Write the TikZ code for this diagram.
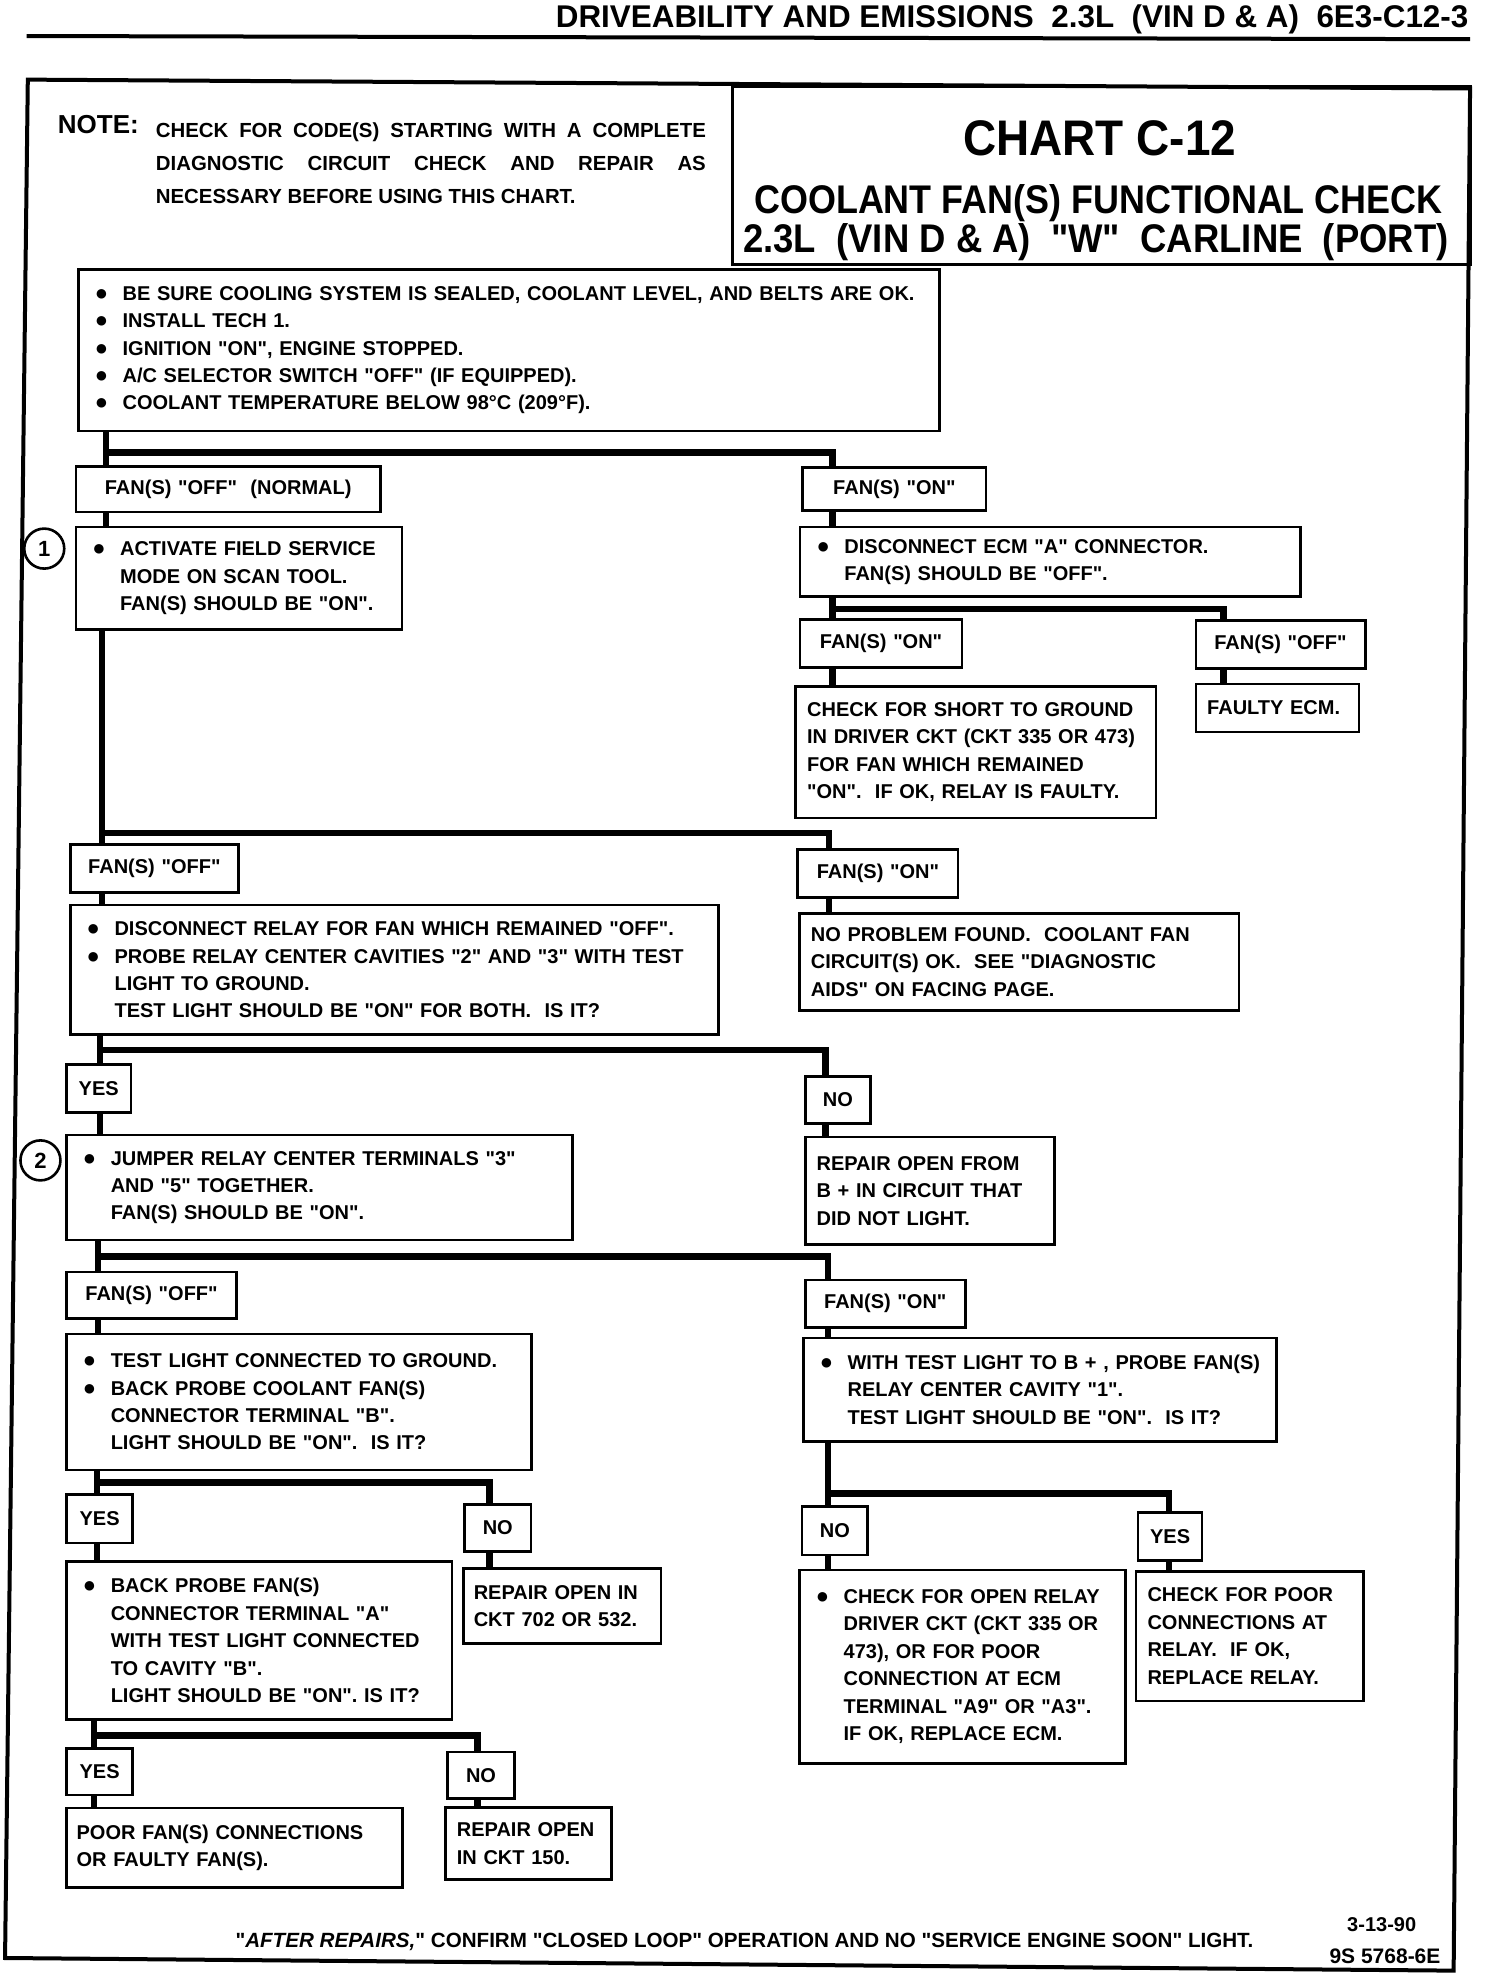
\documentclass[tikz,border=0pt]{standalone}
\usepackage{graphicx}
\usepackage{fontspec}
\setmainfont{Liberation Sans}[Ligatures=TeXOff]
\usetikzlibrary{calc}

\newlength\BulW \setlength\BulW{13.9pt}
\newcommand\BulL[1]{\mbox{\makebox[\BulW][l]{\raisebox{0pt}{\fontsize{11pt}{0pt}\selectfont ●}}#1}}
\newcommand\IndL[1]{\mbox{\hspace*{\BulW}#1}}
\newcommand\PlainL[1]{\mbox{#1}}

% name, x, y, w, h, pad, content   (left aligned text box)
\newcommand\TBox[7]{%
  \pgfmathsetlengthmacro\tbw{(#4-2*#6)*0.632}%
  \node[tb, inner xsep=#6*0.632pt, text width=\tbw, minimum height=#5*0.632pt] (#1) at (#2,#3) {#7};}
% name, x, y, w, h, content  (centered label box)
\newcommand\LBox[6]{%
  \pgfmathsetlengthmacro\tbw{#4*0.632}%
  \node[tb, align=center, inner xsep=0pt, text width=\tbw, minimum height=#5*0.632pt] (#1) at (#2,#3) {#6};}

\tikzset{
  tb/.style={draw, line width=1.3pt, anchor=north west, inner ysep=0pt, align=left,
             font=\fontsize{10pt}{13.7pt}\selectfont\bfseries},
  conn/.style={line width=3.2pt},
  txt/.style={inner sep=0pt},
  numc/.style={circle, draw, line width=1.3pt, minimum size=20pt, inner sep=0pt,
               font=\fontsize{11pt}{12pt}\selectfont\bfseries}
}

\begin{document}
\begin{tikzpicture}[x=0.632pt, y=-0.632pt]
\useasboundingbox (0,0) rectangle (1190,1568);
\fill[white] (0,0) rectangle (1190,1568);

% header
\node[txt, anchor=base east, font=\fontsize{15.7pt}{18pt}\selectfont\bfseries] (hdr) at (1162,22)
  {DRIVEABILITY AND EMISSIONS\ \ 2.3L\ \ (VIN D \& A)\ \ 6E3-C12-3};
\draw[line width=2pt] (21,28.5) -- (1163,31);

% outer frame
\draw[line width=2pt, line join=miter] (22,63) -- (1163,70) -- (1150,1559) -- (4,1549) -- cycle;

% note
\node[txt, anchor=base west, font=\fontsize{13pt}{15pt}\selectfont\bfseries] (note) at (45.5,106) {NOTE:};
\node[txt, anchor=base west, font=\fontsize{10.2pt}{12pt}\selectfont\bfseries] (n1) at (123,109)
  {\makebox[275pt][s]{CHECK FOR CODE(S) STARTING WITH A COMPLETE}};
\node[txt, anchor=base west, font=\fontsize{10.2pt}{12pt}\selectfont\bfseries] (n2) at (123,135)
  {\makebox[275pt][s]{DIAGNOSTIC CIRCUIT CHECK AND REPAIR AS}};
\node[txt, anchor=base west, font=\fontsize{10.2pt}{12pt}\selectfont\bfseries] (n3) at (123,161)
  {NECESSARY BEFORE USING THIS CHART.};

% title box
\node[draw, line width=1.6pt, anchor=north west, minimum width=584*0.632pt, minimum height=141*0.632pt, inner sep=0pt] (titlebox) at (578,67) {};
\node[txt, anchor=base, font=\fontsize{25pt}{28pt}\selectfont\bfseries] (t1) at (870,123) {\scalebox{0.918}[1]{CHART C-12}};
\node[txt, anchor=base, font=\fontsize{20pt}{24pt}\selectfont\bfseries] (t2) at (869,169) {\scalebox{0.898}[1]{COOLANT FAN(S) FUNCTIONAL CHECK}};
\node[txt, anchor=base, font=\fontsize{20pt}{24pt}\selectfont\bfseries] (t3) at (867,200) {\scalebox{0.912}[1]{2.3L\ \ (VIN D \& A)\ \ "W"\ \ CARLINE\ \ (PORT)}};

% boxes
\TBox{b0}{61}{212}{681}{128}{13}{\BulL{BE SURE COOLING SYSTEM IS SEALED, COOLANT LEVEL, AND BELTS ARE OK.}\\
  \BulL{INSTALL TECH 1.}\\ \BulL{IGNITION "ON", ENGINE STOPPED.}\\
  \BulL{A/C SELECTOR SWITCH "OFF" (IF EQUIPPED).}\\ \BulL{COOLANT TEMPERATURE BELOW 98°C (209°F).}}
\LBox{fanoffA}{59}{368}{241}{36}{FAN(S) "OFF"\ \ (NORMAL)}
\LBox{fanonA}{634}{369}{145}{34}{FAN(S) "ON"}
\TBox{box1}{59}{416}{258}{81}{13}{\BulL{ACTIVATE FIELD SERVICE}\\ \IndL{MODE ON SCAN TOOL.}\\ \IndL{FAN(S) SHOULD BE "ON".}}
\node[numc] (c1) at (35,434) {1};
\TBox{discecm}{632}{416}{396}{55}{13}{\BulL{DISCONNECT ECM "A" CONNECTOR.}\\ \IndL{FAN(S) SHOULD BE "OFF".}}
\LBox{fanonB}{632}{489}{128}{38}{FAN(S) "ON"}
\LBox{fanoffB}{945}{490}{134}{38}{FAN(S) "OFF"}
\TBox{short}{628.5}{542}{285}{104}{9}{\PlainL{CHECK FOR SHORT TO GROUND}\\ \PlainL{IN DRIVER CKT (CKT 335 OR 473)}\\
  \PlainL{FOR FAN WHICH REMAINED}\\ \PlainL{"ON".\ \ IF OK, RELAY IS FAULTY.}}
\TBox{faulty}{945}{540}{129}{38}{9}{\PlainL{FAULTY ECM.}}
\LBox{fanoffC}{54.6}{667}{133}{38}{FAN(S) "OFF"}
\LBox{fanonC}{630}{671}{127}{38}{FAN(S) "ON"}
\TBox{discrelay}{54.6}{715}{513}{102.5}{13}{\BulL{DISCONNECT RELAY FOR FAN WHICH REMAINED "OFF".}\\
  \BulL{PROBE RELAY CENTER CAVITIES "2" AND "3" WITH TEST}\\ \IndL{LIGHT TO GROUND.}\\
  \IndL{TEST LIGHT SHOULD BE "ON" FOR BOTH.\ \ IS IT?}}
\TBox{noprob}{631.5}{721.5}{347.5}{77}{9}{\PlainL{NO PROBLEM FOUND.\ \ COOLANT FAN}\\
  \PlainL{CIRCUIT(S) OK.\ \ SEE "DIAGNOSTIC}\\ \PlainL{AIDS" ON FACING PAGE.}}
\LBox{yesD}{51.6}{841}{51}{38}{YES}
\LBox{noD}{636}{850.5}{51.6}{37.5}{NO}
\TBox{box2}{51.6}{897}{400.5}{83}{13}{\BulL{JUMPER RELAY CENTER TERMINALS "3"}\\ \IndL{AND "5" TOGETHER.}\\ \IndL{FAN(S) SHOULD BE "ON".}}
\node[numc] (c2) at (32,918) {2};
\TBox{repairB}{636}{898.5}{197}{85}{9}{\PlainL{REPAIR OPEN FROM}\\ \PlainL{B + IN CIRCUIT THAT}\\ \PlainL{DID NOT LIGHT.}}
\LBox{fanoffE}{51.6}{1005.4}{134.5}{36.6}{FAN(S) "OFF"}
\LBox{fanonE}{636}{1011.5}{126.7}{37.5}{FAN(S) "ON"}
\TBox{testlight}{51.6}{1054.4}{368}{107.4}{13}{\BulL{TEST LIGHT CONNECTED TO GROUND.}\\
  \BulL{BACK PROBE COOLANT FAN(S)}\\ \IndL{CONNECTOR TERMINAL "B".}\\ \IndL{LIGHT SHOULD BE "ON".\ \ IS IT?}}
\TBox{withtest}{634.5}{1057.6}{374.5}{81.7}{13}{\BulL{WITH TEST LIGHT TO B + , PROBE FAN(S)}\\
  \IndL{RELAY CENTER CAVITY "1".}\\ \IndL{TEST LIGHT SHOULD BE "ON".\ \ IS IT?}}
\LBox{yesF}{51.6}{1181.5}{52.4}{38.3}{YES}
\LBox{noF}{366.5}{1189}{52.5}{37.4}{NO}
\TBox{backprobe}{51.6}{1234.3}{305}{125.2}{13}{\BulL{BACK PROBE FAN(S)}\\ \IndL{CONNECTOR TERMINAL "A"}\\
  \IndL{WITH TEST LIGHT CONNECTED}\\ \IndL{TO CAVITY "B".}\\ \IndL{LIGHT SHOULD BE "ON".\ IS IT?}}
\TBox{rep702}{365.8}{1240}{156}{59}{8}{\PlainL{REPAIR OPEN IN}\\ \PlainL{CKT 702 OR 532.}}
\LBox{noG}{633.6}{1190.8}{51.7}{38.2}{NO}
\LBox{yesG}{899.3}{1195.3}{50.7}{38.4}{YES}
\TBox{openrelay}{631.4}{1240.9}{258}{153}{13}{\BulL{CHECK FOR OPEN RELAY}\\ \IndL{DRIVER CKT (CKT 335 OR}\\
  \IndL{473), OR FOR POOR}\\ \IndL{CONNECTION AT ECM}\\ \IndL{TERMINAL "A9" OR "A3".}\\ \IndL{IF OK, REPLACE ECM.}}
\TBox{poorconn}{897.8}{1242.2}{180}{102.3}{9}{\PlainL{CHECK FOR POOR}\\ \PlainL{CONNECTIONS AT}\\
  \PlainL{RELAY.\ \ IF OK,}\\ \PlainL{REPLACE RELAY.}}
\LBox{yesH}{51.6}{1382}{52.4}{37}{YES}
\LBox{noH}{353}{1385}{53}{37}{NO}
\TBox{poorfan}{51.6}{1429.4}{265.6}{62.6}{8}{\PlainL{POOR FAN(S) CONNECTIONS}\\ \PlainL{OR FAULTY FAN(S).}}
\TBox{rep150}{351.4}{1429}{131.2}{57}{9}{\PlainL{REPAIR OPEN}\\ \PlainL{IN CKT 150.}}

% connectors
\coordinate (j1) at (84,358);   \coordinate (k1) at (658.5,358);
\draw[conn] (b0.south -| j1) -- (fanoffA.north -| j1);
\draw[conn] (j1) -| (fanonA.north -| k1);
\draw[conn] (fanoffA.south -| j1) -- (box1.north -| j1);
\draw[conn] (fanonA.south -| k1) -- (discecm.north -| k1);

\coordinate (j2) at (658.5,482); \coordinate (k2) at (968,482);
\draw[conn] (discecm.south -| j2) -- (fanonB.north -| j2);
\draw[conn] (j2) -| (fanoffB.north -| k2);
\draw[conn] (fanonB.south -| j2) -- (short.north -| j2);
\draw[conn] (fanoffB.south -| k2) -- (faulty.north -| k2);

\coordinate (j3) at (80.5,659); \coordinate (k3) at (656,659);
\draw[conn] (box1.south -| j3) -- (fanoffC.north -| j3);
\draw[conn] (j3) -| (fanonC.north -| k3);
\draw[conn] (fanoffC.south -| j3) -- (discrelay.north -| j3);
\draw[conn] (fanonC.south -| k3) -- (noprob.north -| k3);

\coordinate (j4) at (79,830.5); \coordinate (k4) at (653,830.5);
\draw[conn] (discrelay.south -| j4) -- (yesD.north -| j4);
\draw[conn] (j4) -| (noD.north -| k4);
\draw[conn] (yesD.south -| j4) -- (box2.north -| j4);
\draw[conn] (noD.south -| k4) -- (repairB.north -| k4);

\coordinate (j5) at (77.4,994); \coordinate (k5) at (655,994);
\draw[conn] (box2.south -| j5) -- (fanoffE.north -| j5);
\draw[conn] (j5) -| (fanonE.north -| k5);
\draw[conn] (fanoffE.south -| j5) -- (testlight.north -| j5);
\draw[conn] (fanonE.south -| k5) -- (withtest.north -| k5);

\coordinate (j6) at (76.7,1172.7); \coordinate (k6) at (387.3,1172.7);
\draw[conn] (testlight.south -| j6) -- (yesF.north -| j6);
\draw[conn] (j6) -| (noF.north -| k6);
\draw[conn] (yesF.south -| j6) -- (backprobe.north -| j6);
\draw[conn] (noF.south -| k6) -- (rep702.north -| k6);

\coordinate (j7) at (655,1181.4); \coordinate (k7) at (924.7,1181.4);
\draw[conn] (withtest.south -| j7) -- (noG.north -| j7);
\draw[conn] (j7) -| (yesG.north -| k7);
\draw[conn] (noG.south -| j7) -- (openrelay.north -| j7);
\draw[conn] (yesG.south -| k7) -- (poorconn.north -| k7);

\coordinate (j8) at (74.4,1373); \coordinate (k8) at (377.6,1373);
\draw[conn] (backprobe.south -| j8) -- (yesH.north -| j8);
\draw[conn] (j8) -| (noH.north -| k8);
\draw[conn] (yesH.south -| j8) -- (poorfan.north -| j8);
\draw[conn] (noH.south -| k8) -- (rep150.north -| k8);

% footer
\node[txt, anchor=base west, font=\fontsize{10.3pt}{12pt}\selectfont\bfseries] (foot) at (186,1541)
  {"\textit{AFTER REPAIRS,}" CONFIRM "CLOSED LOOP" OPERATION AND NO "SERVICE ENGINE SOON" LIGHT.};
\node[txt, anchor=base west, font=\fontsize{10pt}{12pt}\selectfont\bfseries] (date) at (1065.5,1528) {3-13-90};
\node[txt, anchor=base west, font=\fontsize{10.5pt}{12pt}\selectfont\bfseries] (code) at (1051.5,1553) {9S 5768-6E};
\end{tikzpicture}
\end{document}
